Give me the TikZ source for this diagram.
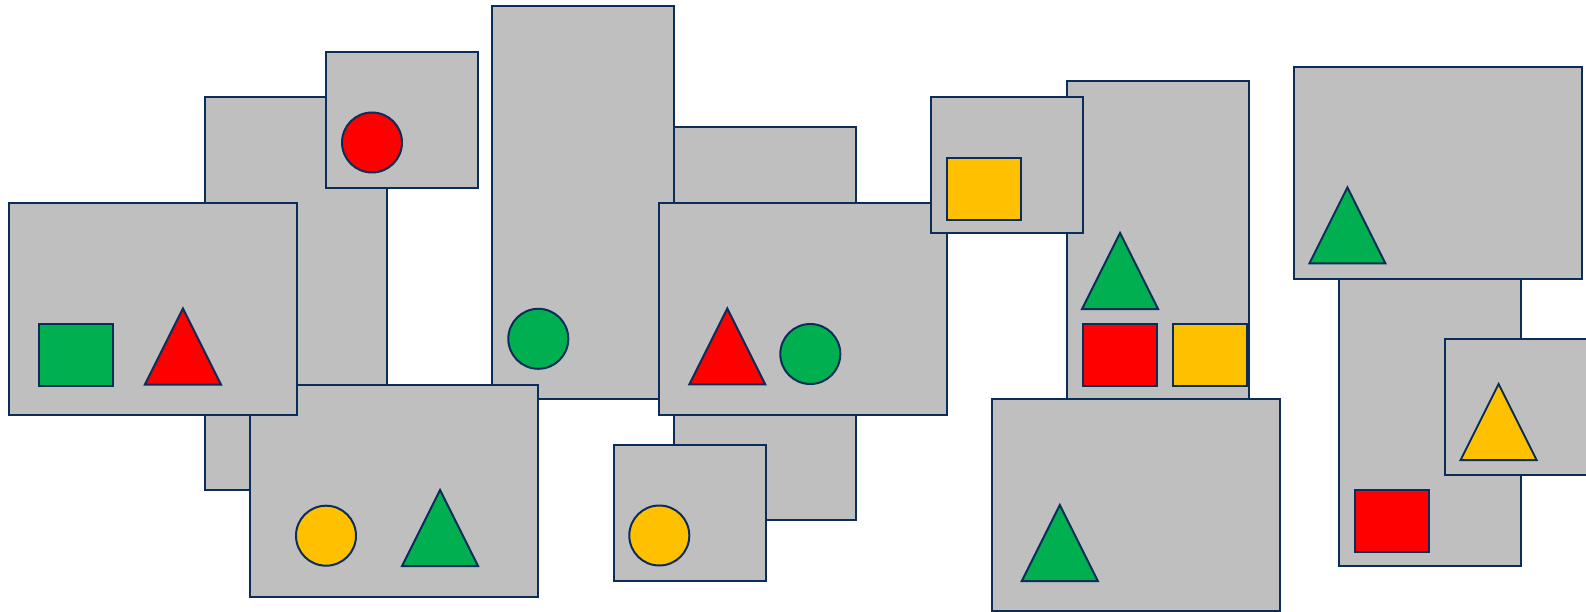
\documentclass[tikz,border=0pt]{standalone}
\usepackage{tikz}
\usetikzlibrary{positioning}
\definecolor{edge}{RGB}{10,45,90}
\definecolor{panel}{RGB}{191,191,191}
\definecolor{grn}{RGB}{0,176,80}
\definecolor{rd}{RGB}{255,0,0}
\definecolor{ylw}{RGB}{255,192,0}
\newcommand{\trigl}[3]{\draw[sh,fill=#1] (#2,#3) -- ++(38,76) -- ++(-76,0) -- cycle;}
\begin{document}
\begin{tikzpicture}[
  x=1pt, y=-1pt,
  box/.style={draw=edge,fill=panel,line width=2pt,inner sep=0pt},
  wide/.style={box,minimum width=288,minimum height=212},
  tall/.style={box,minimum width=182,minimum height=393},
  small/.style={box,minimum width=152,minimum height=136},
  sh/.style={draw=edge,line width=2pt,line join=miter},
  sq/.style={sh,inner sep=0pt,minimum width=74,minimum height=62},
  dot/.style={sh,circle,inner sep=0pt,minimum size=60}]
\useasboundingbox (0,0) rectangle (1586,612);
% left group
\node[tall] (A) at (296,293.5) {};
\node[small] (B) at (402.3,119.8) {};
\node[dot,fill=rd] (Bc) at (372,142.5) {};
\node[tall] (E) at (583.3,202.7) {};
\node[dot,fill=grn] (Ec) at (538.3,338.8) {};
\node[wide] (D) at (394.1,490.5) {};
\node[dot,fill=ylw] (Dc) at (326,535.7) {};
\trigl{grn}{440.1}{490}
\node[wide] (C) at (152.7,309) {};
\node[sq,fill=grn] (Cs) at (76.2,355.3) {};
\trigl{rd}{182.9}{308.5}
% middle group
\node[tall] (F) at (765,323.8) {};
\node[wide] (G) at (802.8,308.8) {};
\trigl{rd}{727.3}{308.4}
\node[dot,fill=grn] (Gc) at (810.3,354) {};
\node[small] (H) at (689.5,512.7) {};
\node[dot,fill=ylw] (Hc) at (659.3,535.5) {};
\node[box,minimum width=182,minimum height=318] (J) at (1158.3,240.5) {};
\trigl{grn}{1120.1}{233}
\node[sq,fill=rd] (Js1) at (1119.5,355.2) {};
\node[sq,fill=ylw] (Js2) at (1210.4,355.2) {};
\node[small] (I) at (1007.1,165.3) {};
\node[sq,fill=ylw] (Is) at (983.5,188.9) {};
\node[wide] (K) at (1135.6,505.1) {};
\trigl{grn}{1059.8}{505}
% right group
\node[tall] (M) at (1430.2,369.1) {};
\node[sq,fill=rd] (Ms) at (1391.6,521.3) {};
\node[wide] (L) at (1437.8,172.7) {};
\trigl{grn}{1347.4}{187.4}
\node[small] (N) at (1521.3,406.9) {};
\trigl{ylw}{1498.6}{384}
\end{tikzpicture}
\end{document}
